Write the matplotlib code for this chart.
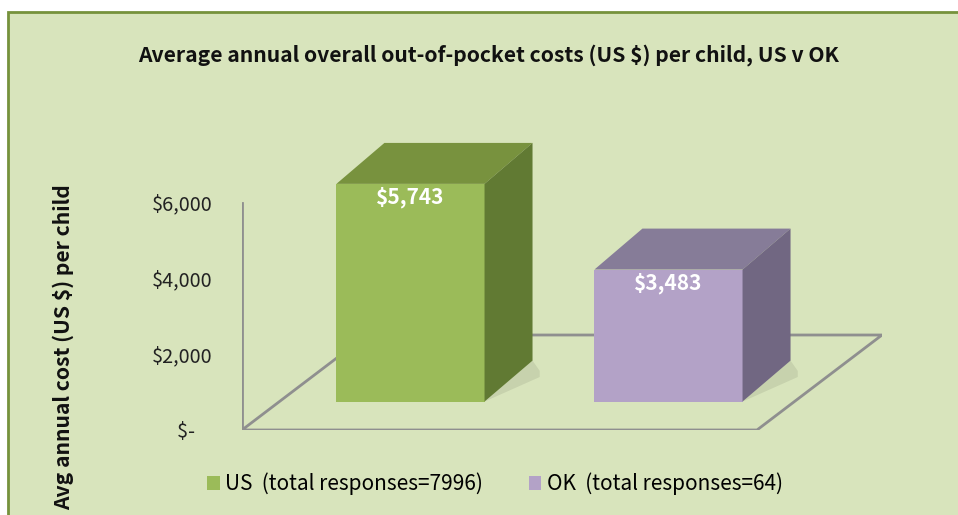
import matplotlib.pyplot as plt
from matplotlib.patches import Polygon, Rectangle, Patch

plt.rcParams['font.family'] = ['Noto Sans CJK KR', 'DejaVu Sans']

# =========================
# Datos
# =========================
categories = ["US", "OK"]
values = [5743, 3483]
responses = [7996, 64]
value_labels = ["$5,743", "$3,483"]
tick_values = [0, 2000, 4000, 6000]
tick_labels = ["$-    ", "$2,000", "$4,000", "$6,000"]

front_colors = ["#9BBB59", "#B3A2C7"]
top_colors = ["#78923E", "#867C98"]
side_colors = ["#617A33", "#716782"]

# pseudo 3D (proyeccion oblicua)
bar_w = 0.574
bar_dx, bar_dy = 0.186, 1080
bar_lift = 750
floor_x0, floor_x1 = -0.653, 1.343
floor_dx, floor_dy = 0.4845, 2506
line_col = "#8F8F8F"

fig = plt.figure(figsize=(9.58, 5.15), dpi=100)
fig.patch.set_facecolor("white")
fig.patches.append(Rectangle((8 / 958, -0.1), 1.2, (515 - 12) / 515 + 0.1,
                             transform=fig.transFigure, facecolor="#D8E4BC",
                             edgecolor="#76923C", linewidth=2, zorder=-5))

ax = fig.add_axes([242 / 958, 85 / 515, 640 / 958, 290 / 515])
ax.set_facecolor("none")
ax.set_xlim(floor_x0, floor_x1 + floor_dx)
ax.set_ylim(0, 7650)
for s in ax.spines.values():
    s.set_visible(False)
ax.set_xticks([])
ax.set_yticks(tick_values)
ax.set_yticklabels(tick_labels, fontsize=14.3, color="#222222")
ax.tick_params(axis="y", length=0, pad=21)

# piso
floor = Polygon([(floor_x0, 0), (floor_x1, 0), (floor_x1 + floor_dx, floor_dy),
                 (floor_x0 + floor_dx, floor_dy)], closed=True, facecolor="none",
                edgecolor=line_col, linewidth=2, zorder=1)
ax.add_patch(floor)
ax.plot([floor_x0, floor_x0], [0, tick_values[-1]], color=line_col, lw=2, zorder=1)

# barras
xs = range(len(categories))
bars = ax.bar(xs, values, width=bar_w, bottom=bar_lift, color=front_colors, zorder=3)
for i, b in enumerate(bars):
    x0 = b.get_x()
    x1 = x0 + b.get_width()
    top = bar_lift + values[i]
    # sombra
    ax.add_patch(Polygon([(x1, bar_lift), (x1 + bar_dx * 1.15, bar_lift + bar_dy * 0.6),
                          (x1 + bar_dx * 1.15, bar_lift + bar_dy * 0.75),
                          (x1 + bar_dx, bar_lift + bar_dy)],
                         closed=True, facecolor="#000000", alpha=0.08, edgecolor="none", zorder=2))
    ax.add_patch(Polygon([(x0, top), (x0 + bar_dx, top + bar_dy),
                          (x1 + bar_dx, top + bar_dy), (x1, top)],
                         closed=True, facecolor=top_colors[i], edgecolor="none", zorder=3))
    ax.add_patch(Polygon([(x1, bar_lift), (x1 + bar_dx, bar_lift + bar_dy),
                          (x1 + bar_dx, top + bar_dy), (x1, top)],
                         closed=True, facecolor=side_colors[i], edgecolor="none", zorder=3))
    ax.annotate(value_labels[i], (i, top), xytext=(0, -2), textcoords="offset points",
                ha="center", va="top", color="white", fontsize=15, fontweight="bold",
                zorder=4)

fig.text(489 / 958, 1 - 55 / 515,
         "Average annual overall out-of-pocket costs (US $) per child, US v OK",
         ha="center", va="center", fontsize=15.2, fontweight="bold", color="#111111")
fig.text(63 / 958, 1 - 347 / 515, "Avg annual cost (US $) per child", rotation=90,
         ha="center", va="center", fontsize=15.2, fontweight="bold", color="#111111")

handles = [Patch(facecolor=front_colors[i], edgecolor="none") for i in range(len(categories))]
labels = [f"{categories[i]}  (total responses={responses[i]})" for i in range(len(categories))]
fig.legend(handles, labels, loc="center", bbox_to_anchor=(495 / 958, 1 - 484 / 515),
           ncol=2, frameon=False, fontsize=15, handlelength=0.6, handleheight=0.6,
           handletextpad=0.25, columnspacing=2.2)

fig.savefig("out.png", dpi=100)
